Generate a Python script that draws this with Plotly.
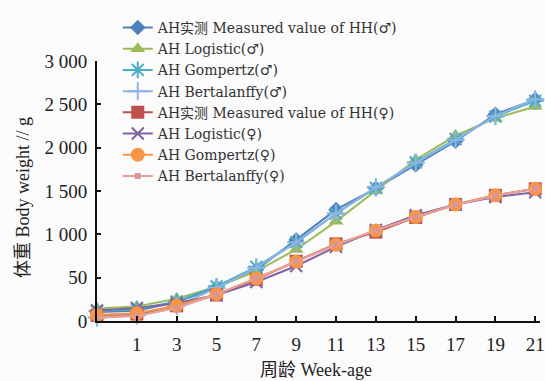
import plotly.graph_objects as go

weeks = [0, 1, 3, 5, 7, 9, 11, 13, 15, 17, 19, 21]
week_labels = ["", "1", "3", "5", "7", "9", "11", "13", "15", "17", "19", "21"]

male_measured = [105, 118, 220, 385, 590, 935, 1285, 1530, 1800, 2075, 2385, 2555]
male_logistic = [143, 168, 258, 395, 575, 825, 1150, 1510, 1860, 2140, 2340, 2475]
male_gompertz = [115, 135, 225, 400, 625, 910, 1240, 1535, 1830, 2100, 2360, 2540]
male_bertalanffy = [40, 65, 175, 380, 615, 905, 1240, 1545, 1825, 2090, 2365, 2560]

female_measured = [65, 80, 175, 300, 480, 690, 890, 1025, 1195, 1345, 1450, 1525]
female_logistic = [122, 150, 205, 300, 450, 635, 855, 1050, 1220, 1345, 1430, 1485]
female_gompertz = [70, 88, 175, 310, 490, 685, 880, 1045, 1200, 1345, 1450, 1525]
female_bertalanffy = [38, 58, 150, 305, 495, 690, 880, 1045, 1200, 1340, 1445, 1530]

y_tickvals = [0, 500, 1000, 1500, 2000, 2500, 3000]
y_ticktext = ["0", "50", "1 000", "1 500", "2 000", "2 500", "3 000"]

idx = list(range(len(weeks)))

series = [
    ("AH实测 Measured value of HH(♂)", male_measured, "#4F81BD", "diamond", 12, "#4F81BD"),
    ("AH Logistic(♂)", male_logistic, "#9BBB59", "triangle-up", 13, "#9BBB59"),
    ("AH Gompertz(♂)", male_gompertz, "#4BACC6", "asterisk-open", 14, "#4BACC6"),
    ("AH Bertalanffy(♂)", male_bertalanffy, "#8EB4E3", "cross-thin-open", 13, "#8EB4E3"),
    ("AH实测 Measured value of HH(♀)", female_measured, "#C0504D", "square", 13, "#C0504D"),
    ("AH Logistic(♀)", female_logistic, "#8064A2", "x-thin-open", 12, "#8064A2"),
    ("AH Gompertz(♀)", female_gompertz, "#F79646", "circle", 14, "#F79646"),
    ("AH Bertalanffy(♀)", female_bertalanffy, "#E6A0A0", "square", 6, "#D99694"),
]

FONT = "Liberation Serif, Noto Sans CJK SC, serif"
LEGFONT = "DejaVu Serif, Noto Sans CJK SC, serif"

fig = go.Figure()
for name, vals, color, sym, size, mcol in series:
    open_sym = sym.endswith("open")
    fig.add_trace(go.Scatter(
        x=idx, y=vals, name=name, mode="lines+markers",
        line=dict(color=color, width=2),
        marker=dict(symbol=sym, size=size, color=mcol,
                    line=dict(color=mcol, width=2 if open_sym else 0)),
        cliponaxis=False,
    ))

fig.update_layout(
    width=545, height=381,
    margin=dict(l=97, r=0, t=61, b=60),
    paper_bgcolor="#FBFBFB", plot_bgcolor="#FBFBFB",
    font=dict(family=FONT, size=17, color="#222222"),
    showlegend=True,
    legend=dict(x=(118 - 97) / 448, y=(320.7 - 12) / 259.7, xanchor="left", yanchor="top",
                bgcolor="rgba(0,0,0,0)", font=dict(size=14, family=LEGFONT, color="#333333"),
                tracegroupgap=0, itemsizing="trace", maxheight=400),
    xaxis=dict(range=[0, 11.12], tickvals=idx[1:], ticktext=week_labels[1:],
               showgrid=False, zeroline=False, showline=True, linecolor="#111111", linewidth=2,
               ticks="inside", ticklen=5, tickwidth=1.5, tickcolor="#111111",
               tickfont=dict(size=19, family=FONT), ticklabelstandoff=5,
               ticklabeloverflow="allow"),
    yaxis=dict(range=[0, 3000], tickvals=y_tickvals, ticktext=y_ticktext,
               showgrid=False, zeroline=False, showline=True, linecolor="#111111", linewidth=2,
               ticks="inside", ticklen=4, tickwidth=1.5, tickcolor="#111111",
               tickfont=dict(size=19, family=FONT), ticklabelstandoff=4),
    annotations=[
        dict(text="体重 Body weight // g", xref="paper", yref="paper",
             x=(22 - 97) / 448, y=(320.7 - 197) / 259.7, textangle=-90,
             showarrow=False, font=dict(size=18, family=FONT), xanchor="center", yanchor="middle"),
        dict(text="周龄 Week-age", xref="paper", yref="paper",
             x=(318 - 97) / 448, y=(320.7 - 370) / 259.7,
             showarrow=False, font=dict(size=18, family=FONT), xanchor="center", yanchor="middle"),
    ],
)

fig.write_html("out.html")
